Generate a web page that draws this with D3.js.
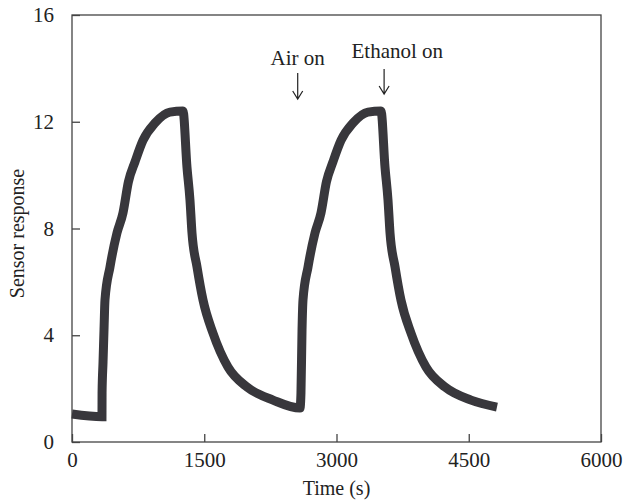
<!DOCTYPE html>
<html lang="en">
  <head>
    <meta charset="UTF-8" />
    <title>Sensor response</title>
    <style>
      body { margin: 0; background: #fff; }
      text { font-family: "Liberation Serif", "DejaVu Serif", serif; fill: #222; }
    </style>
  </head>
  <body>
    <div class="chart"></div>
    <script src="https://d3js.org/d3.v7.min.js"></script>
    <script>
      // 資料 (讀自圖片)
      const timeData = [0, 340, 341, 352, 363, 374, 431, 510, 578, 640, 715, 805, 941, 1111, 1259,
        1304, 1338, 1361, 1418, 1486, 1599, 1769, 1985, 2280, 2586,
        2597, 2609, 2620, 2677, 2756, 2824, 2886, 2960, 3051, 3187, 3357, 3505,
        3550, 3584, 3607, 3664, 3731, 3845, 4015, 4231, 4526, 4820];
      const responseData = [1.05, 0.95, 1.84, 3.0, 4.2, 5.32, 6.56, 7.83, 8.58, 9.75, 10.5, 11.3, 11.95, 12.36, 12.4,
        10.3, 9.07, 7.83, 6.56, 5.32, 4.08, 2.81, 2.06, 1.57, 1.27,
        1.84, 4.2, 5.32, 6.56, 7.83, 8.58, 9.75, 10.5, 11.3, 11.95, 12.36, 12.4,
        10.3, 9.07, 7.83, 6.56, 5.32, 4.08, 2.81, 2.06, 1.57, 1.31];
      const xTicks = [0, 1500, 3000, 4500, 6000];
      const yTicks = [0, 4, 8, 12, 16];
      const notes = [
        { label: 'Air on', time: 2560, textTime: 2560 },
        { label: 'Ethanol on', time: 3540, textTime: 3690 }
      ];

      const svgWidth = 624, svgHeight = 501;
      const mLeft = 72, mRight = 601, mTop = 15, mBottom = 442;

      const svg = d3.select('.chart')
                    .append('svg')
                    .attr('width', svgWidth)
                    .attr('height', svgHeight);

      const xScale = d3.scaleLinear().domain([0, 6000]).range([mLeft, mRight]);
      const yScale = d3.scaleLinear().domain([0, 16]).range([mBottom, mTop]);

      // 外框
      svg.append('rect')
         .attr('x', mLeft).attr('y', mTop)
         .attr('width', mRight - mLeft).attr('height', mBottom - mTop)
         .attr('fill', 'none')
         .attr('stroke', '#444')
         .attr('stroke-width', 1.3);

      // X軸 (刻度朝內)
      const xAxis = svg.append('g')
         .attr('transform', `translate(0,${mBottom})`)
         .call(d3.axisBottom(xScale).tickValues(xTicks).tickFormat(d3.format('d'))
                 .tickSizeInner(-8).tickSizeOuter(0).tickPadding(10));
      xAxis.select('.domain').remove();
      xAxis.selectAll('line').attr('stroke', '#444').attr('stroke-width', 1.3);
      xAxis.selectAll('text').style('font-size', '21px').attr('fill', '#222')
           .attr('font-family', 'Liberation Serif');

      // Y軸
      const yAxis = svg.append('g')
         .attr('transform', `translate(${mLeft},0)`)
         .call(d3.axisLeft(yScale).tickValues(yTicks).tickFormat(d3.format('d'))
                 .tickSizeInner(-8).tickSizeOuter(0).tickPadding(18));
      yAxis.select('.domain').remove();
      yAxis.selectAll('line').attr('stroke', '#444').attr('stroke-width', 1.3);
      yAxis.selectAll('text').style('font-size', '21px').attr('fill', '#222')
           .attr('font-family', 'Liberation Serif');

      // 軸標題
      svg.append('text')
         .attr('x', (mLeft + mRight) / 2).attr('y', 495)
         .attr('text-anchor', 'middle')
         .style('font-size', '20px')
         .text('Time (s)');

      svg.append('text')
         .attr('transform', `translate(24,${(mTop + mBottom) / 2 + 5}) rotate(-90)`)
         .attr('text-anchor', 'middle')
         .style('font-size', '20px')
         .text('Sensor response');

      // 曲線
      const line = d3.line()
         .x((d, i) => xScale(d))
         .y((d, i) => yScale(responseData[i]))
         .curve(d3.curveMonotoneX);

      svg.append('path')
         .attr('d', line(timeData))
         .attr('fill', 'none')
         .attr('stroke', '#38373c')
         .attr('stroke-width', 9)
         .attr('stroke-linejoin', 'miter');

      // 標註
      const note = svg.selectAll('.note').data(notes).join('g').attr('class', 'note');
      note.append('text')
          .attr('x', d => xScale(d.textTime))
          .attr('y', (d, i) => i === 0 ? 65 : 58)
          .attr('text-anchor', 'middle')
          .style('font-size', '21px')
          .text(d => d.label);
      note.append('path')
          .attr('d', (d, i) => {
            const x = xScale(d.time);
            const y0 = i === 0 ? 73 : 69, y1 = i === 0 ? 99 : 94;
            return `M${x},${y0}L${x},${y1}M${x - 5},${y1 - 8}L${x},${y1}L${x + 5},${y1 - 8}`;
          })
          .attr('fill', 'none')
          .attr('stroke', '#222')
          .attr('stroke-width', 1.2);
    </script>
  </body>
</html>
